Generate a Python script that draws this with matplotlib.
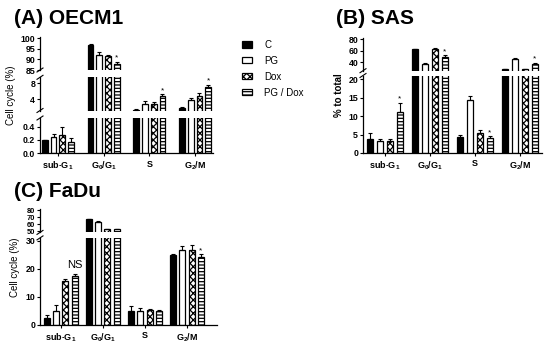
import matplotlib
matplotlib.use("Agg")
import matplotlib.pyplot as plt
from matplotlib.lines import Line2D
from matplotlib.patches import Patch
import numpy as np

plt.rcParams["font.family"] = ["Liberation Sans", "DejaVu Sans"]
plt.rcParams["mathtext.fontset"] = "custom"
plt.rcParams["mathtext.rm"] = "Liberation Sans:bold"
plt.rcParams["mathtext.default"] = "rm"
plt.rcParams["hatch.linewidth"] = 0.9

W, H = 550, 346

groups = ["sub-G$_1$", "G$_0$/G$_1$", "S", "G$_2$/M"]
conditions = ["C", "PG", "Dox", "PG / Dox"]

# per condition: sub-G1, G0/G1, S, G2/M
oecm1_mean = [[0.20, 96.8, 1.4, 1.75],
              [0.245, 92.1, 2.75, 3.8],
              [0.27, 91.6, 2.9, 4.9],
              [0.17, 87.8, 4.8, 7.0]]
oecm1_err = [[0.0, 0.3, 0.15, 0.25],
             [0.05, 1.5, 0.8, 0.6],
             [0.12, 0.5, 0.5, 0.75],
             [0.06, 1.2, 0.5, 0.7]]
oecm1_marks = {(3, 1): "*", (3, 2): "*", (3, 3): "*"}

sas_mean = [[3.8, 62.5, 4.4, 28.0],
            [3.2, 37.0, 14.3, 46.0],
            [3.2, 62.5, 5.4, 28.0],
            [11.2, 49.0, 4.0, 37.0]]
sas_err = [[1.5, 1.0, 0.5, 0.8],
           [0.6, 1.0, 1.1, 0.8],
           [0.6, 1.5, 0.9, 0.8],
           [2.4, 3.0, 0.6, 2.0]]
sas_marks = {(3, 0): "*", (3, 1): "*", (3, 2): "*", (3, 3): "*"}

fadu_mean = [[2.4, 66.7, 5.1, 24.8],
             [5.1, 62.9, 5.1, 26.6],
             [15.6, 52.4, 5.3, 26.6],
             [17.4, 52.9, 5.1, 24.1]]
fadu_err = [[1.2, 0.8, 1.6, 0.4],
            [2.0, 1.5, 1.1, 1.4],
            [0.9, 0.3, 0.3, 2.0],
            [0.6, 0.4, 0.3, 1.2]]
fadu_marks = {(3, 0): "NS", (3, 3): "*"}

styles = [dict(facecolor="black", edgecolor="black", hatch=None),
          dict(facecolor="white", edgecolor="black", hatch=None),
          dict(facecolor="white", edgecolor="black", hatch="xxxxx"),
          dict(facecolor="white", edgecolor="black", hatch="-----")]

fig = plt.figure(figsize=(W / 100, H / 100), dpi=100)


def fpos(x, y):
    return x / W, 1 - y / H


def panel(mean, err, marks, x0, x1, xlim, pitch, width, segments, ylabel, ylabel_x,
          ylabel_bold=False):
    mean = np.array(mean)
    err = np.array(err)
    xs = np.arange(len(groups))
    axes = []
    for k, (ytop, ybot, ylim, ticks, labels) in enumerate(segments):
        ax = fig.add_axes([x0 / W, 1 - ybot / H, (x1 - x0) / W, (ybot - ytop) / H])
        last = k == len(segments) - 1
        for c in range(len(conditions)):
            xc = xs + (c - 1.5) * pitch
            ax.bar(xc, mean[c], width, linewidth=0.9, **styles[c])
            ax.errorbar(xc, mean[c], yerr=[np.zeros(4), err[c]], fmt="none",
                        ecolor="black", elinewidth=0.8, capsize=1.6, capthick=0.8)
        for (c, g), txt in marks.items():
            y = mean[c, g] + err[c, g]
            if ylim[0] < y < ylim[1]:
                xc = g + (c - 1.5) * pitch
                if txt == "*":
                    ax.text(xc, y, "*", ha="center", va="bottom", fontsize=6)
                else:
                    ax.annotate(txt, (xc, y), xytext=(0, 3), textcoords="offset points",
                                ha="center", va="bottom", fontsize=8,
                                annotation_clip=False)
        ax.set_xlim(*xlim)
        ax.set_ylim(*ylim)
        ax.set_yticks(ticks)
        ax.set_yticklabels(labels)
        ax.patch.set_visible(False)
        for s in ["top", "right"]:
            ax.spines[s].set_visible(False)
        ax.spines["left"].set_linewidth(0.9)
        step = (ybot - ytop) / (ylim[1] - ylim[0]) * (ticks[1] - ticks[0])
        ax.tick_params(axis="y", length=2.5, width=0.8, pad=1,
                       labelsize=6.3 if step > 9 else 5.4)
        for t in ax.get_yticklabels():
            t.set_fontweight("bold")
        if last:
            ax.spines["bottom"].set_linewidth(0.9)
            ax.set_xticks(xs)
            ax.set_xticklabels(groups, fontsize=6.5, fontweight="bold")
            ax.tick_params(axis="x", length=2.5, width=0.8, pad=2)
        else:
            ax.spines["bottom"].set_visible(False)
            ax.set_xticks([])
        axes.append(ax)
    # axis breaks
    for (ytop, ybot, *_), (ntop, *_rest) in zip(segments[:-1], segments[1:]):
        for yb in (ybot, ntop):
            (ax_, ay_), (bx_, by_) = fpos(x0 - 3, yb + 2), fpos(x0 + 3, yb - 2)
            fig.add_artist(Line2D([ax_, bx_], [ay_, by_], color="black", lw=0.8,
                                  transform=fig.transFigure))
    ymid = (segments[0][0] + segments[-1][1]) / 2
    lx, ly = fpos(ylabel_x, ymid)
    fig.text(lx, ly, ylabel, rotation=90, ha="center", va="center", fontsize=7,
             fontweight="bold" if ylabel_bold else "normal")
    return axes


panel(oecm1_mean, oecm1_err, oecm1_marks, 40, 213, (-0.39, 3.39), 0.19, 0.125,
      [(37.3, 70.0, (85, 100.5), [85, 90, 95, 100], ["85", "90", "95", "100"]),
       (77.3, 110.5, (1.2, 9.5), [4, 8], ["4", "8"]),
       (118.0, 153.3, (0, 0.53), [0.0, 0.2, 0.4], ["0.0", "0.2", "0.4"])],
      "Cell cycle (%)", 11)

panel(sas_mean, sas_err, sas_marks, 363, 542, (-0.49, 3.49), 0.22, 0.13,
      [(37.6, 70.7, (25, 83), [40, 60, 80], ["40", "60", "80"]),
       (75.5, 153.0, (0, 21), [0, 5, 10, 15, 20], ["0", "5", "10", "15", "20"])],
      "% to total", 339, ylabel_bold=True)

panel(fadu_mean, fadu_err, fadu_marks, 40, 217, (-0.49, 3.71), 0.22, 0.14,
      [(209.3, 232.4, (48, 81), [50, 60, 70, 80], ["50", "60", "70", "80"]),
       (237.9, 325.0, (0, 31), [0, 10, 20, 30], ["0", "10", "20", "30"])],
      "Cell cycle (%)", 15)

for txt, (x, y) in [("(A) OECM1", (14, 18)), ("(B) SAS", (336, 18)), ("(C) FaDu", (14, 192))]:
    fx, fy = fpos(x, y)
    fig.text(fx, fy, txt, fontsize=15, fontweight="bold", ha="left", va="center")

handles = [Patch(linewidth=0.9, **s) for s in styles]
lx, ly = fpos(242, 40)
fig.legend(handles, conditions, loc="upper left", bbox_to_anchor=(lx, ly),
           frameon=False, fontsize=7, handlelength=1.0, handleheight=0.6,
           handletextpad=1.3, labelspacing=0.6, borderpad=0, borderaxespad=0)

fig.savefig("out.png", dpi=100)
